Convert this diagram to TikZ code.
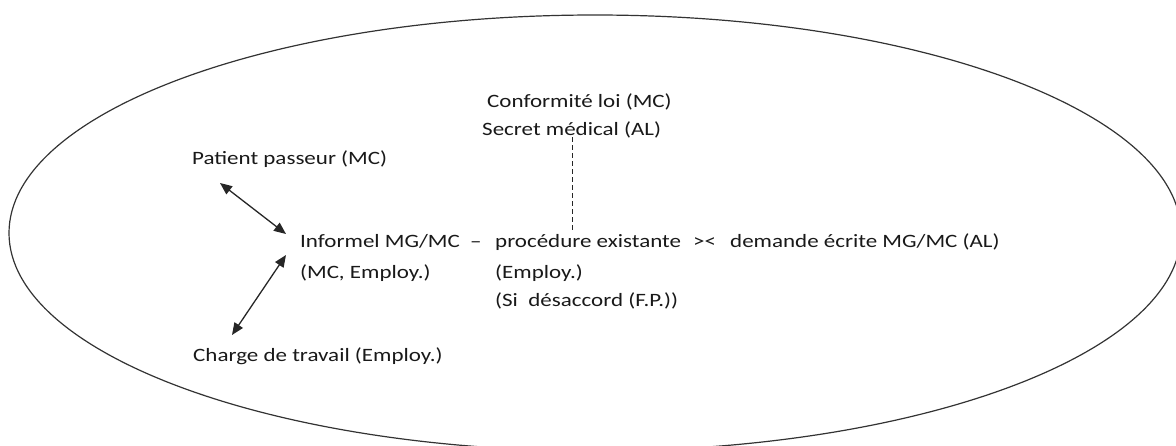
\documentclass[tikz,border=0pt]{standalone}
\usepackage{fontspec}
\setmainfont{Carlito}[FakeStretch=1.22]
\usetikzlibrary{arrows.meta}
\begin{document}
\begin{tikzpicture}[x=1pt,y=-1pt,
  lbl/.style={anchor=base west,inner sep=0pt,font=\fontsize{18.85}{22}\selectfont,text=black!90},
  link/.style={draw=black!85,line width=1.3pt,{Triangle[length=12pt,width=10pt]}-{Triangle[length=12pt,width=10pt]}},
  dashlink/.style={draw=black!85,line width=1pt,dash pattern=on 5pt off 3pt}]
  \useasboundingbox (0,0) rectangle (1176,445);
  \clip (0,0) rectangle (1176,445);
  % outer ellipse
  \draw[black!80,line width=1.2pt] (595,233) ellipse [x radius=586pt,y radius=218pt];
  % labels
  \node[lbl] (conf) at (487,107) {Conformité loi (MC)};
  \node[lbl] (secret) at (482,135) {Secret médical (AL)};
  \node[lbl] (patient) at (192,164) {Patient passeur (MC)};
  \node[lbl] (inf) at (300,247) {Informel MG/MC};
  \node[lbl] (tiret) at (470,247) {–};
  \node[lbl] (proc) at (495,247) {procédure existante};
  \node[lbl] (vs) at (693,247) {><};
  \node[lbl] (dem) at (730,247) {demande écrite MG/MC (AL)};
  \node[lbl] (infsub) at (300,278) {(MC, Employ.)};
  \node[lbl] (procsub) at (495,278) {(Employ.)};
  \node[lbl] (desac) at (495,306) {(Si\ \ désaccord (F.P.))};
  \node[lbl] (charge) at (193,361) {Charge de travail (Employ.)};
  % connector end points
  \coordinate (pA) at (220,183);
  \coordinate (iA) at (286,234);
  \coordinate (iB) at (286,255);
  \coordinate (cB) at (232,335);
  \coordinate (dTop) at (572,137);
  \coordinate (dBot) at (572,232);
  % connectors
  \draw[link] (pA) -- (iA);
  \draw[link] (iB) -- (cB);
  \draw[dashlink] (dTop) -- (dBot);
\end{tikzpicture}
\end{document}
